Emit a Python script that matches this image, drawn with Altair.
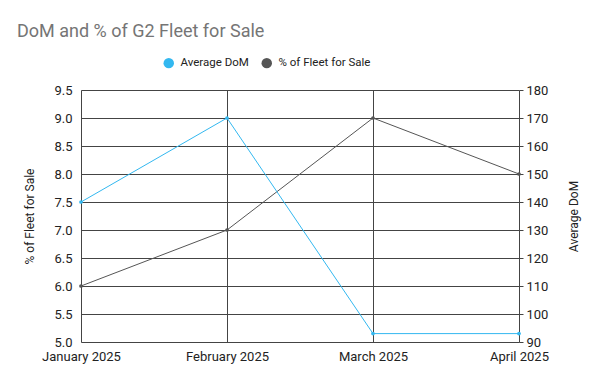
import altair as alt
import pandas as pd

months = ["January 2025", "February 2025", "March 2025", "April 2025"]
avg_dom = [140, 170, 93, 93]
pct_fleet = [6.0, 7.0, 9.0, 8.0]
series_names = ["Average DoM", "% of Fleet for Sale"]
series_colors = ["#33b8f0", "#555555"]
left_ticks = [5.0, 5.5, 6.0, 6.5, 7.0, 7.5, 8.0, 8.5, 9.0, 9.5]
right_ticks = [90, 100, 110, 120, 130, 140, 150, 160, 170, 180]

df_pct = pd.DataFrame({"month": months, "value": pct_fleet, "series": series_names[1]})
df_dom = pd.DataFrame({"month": months, "value": avg_dom, "series": series_names[0]})

FONT = "Roboto"
TXT = "#222222"
GRID = "#444444"

x_enc = alt.X(
    "month:N", sort=months, title=None,
    scale=alt.Scale(type="point", padding=0),
    axis=alt.Axis(labelAngle=0, grid=True, gridColor=GRID, ticks=False, domain=False,
                  labelPadding=8, labelColor=TXT, labelFontSize=13, labelFont=FONT),
)
color_enc = alt.Color(
    "series:N",
    scale=alt.Scale(domain=series_names, range=series_colors),
    legend=alt.Legend(title=None, orient="none", direction="horizontal",
                      legendX=82, legendY=-33, symbolType="circle", symbolSize=110,
                      symbolStrokeWidth=0, labelFontSize=11.5, labelColor=TXT, labelFont=FONT,
                      columnPadding=12, labelOffset=6),
)

pct_layer = alt.Chart(df_pct).mark_line(strokeWidth=1, point=alt.OverlayMarkDef(size=14, filled=True)).encode(
    x=x_enc,
    y=alt.Y("value:Q", title="% of Fleet for Sale",
            scale=alt.Scale(domain=[5, 9.5], nice=False, zero=False),
            axis=alt.Axis(values=left_ticks, format=".1f", grid=True, gridColor=GRID, ticks=False,
                          domain=False, labelPadding=9, labelColor=TXT, labelFontSize=13, labelFont=FONT,
                          titleFontWeight="normal", titleFontSize=12, titleColor=TXT, titleFont=FONT,
                          titlePadding=17, orient="left")),
    color=color_enc,
)

dom_layer = alt.Chart(df_dom).mark_line(strokeWidth=1, point=alt.OverlayMarkDef(size=14, filled=True)).encode(
    x=x_enc,
    y=alt.Y("value:Q", title="Average DoM",
            scale=alt.Scale(domain=[90, 180], nice=False, zero=False),
            axis=alt.Axis(values=right_ticks, format="d", grid=False, ticks=True, tickSize=4, tickColor=GRID,
                          domain=False, labelPadding=3, labelColor=TXT, labelFontSize=13, labelFont=FONT,
                          titleFontWeight="normal", titleFontSize=12, titleColor=TXT, titleFont=FONT,
                          titleAngle=270, titlePadding=33, orient="right")),
    color=color_enc,
)

chart = alt.layer(pct_layer, dom_layer).resolve_scale(y="independent").properties(
    width=438, height=252,
    autosize=alt.AutoSizeParams(type="none"),
    padding={"left": 73, "top": 82, "right": 73, "bottom": 33},
    title=alt.TitleParams("DoM and % of G2 Fleet for Sale", anchor="start", frame="group",
                          fontSize=18, fontWeight="normal", color="#757575", font=FONT, dx=-64, dy=-12),
).configure_view(stroke=None).configure(background="white")

chart.save("out.html", embed_options={"renderer": "svg", "actions": False})
